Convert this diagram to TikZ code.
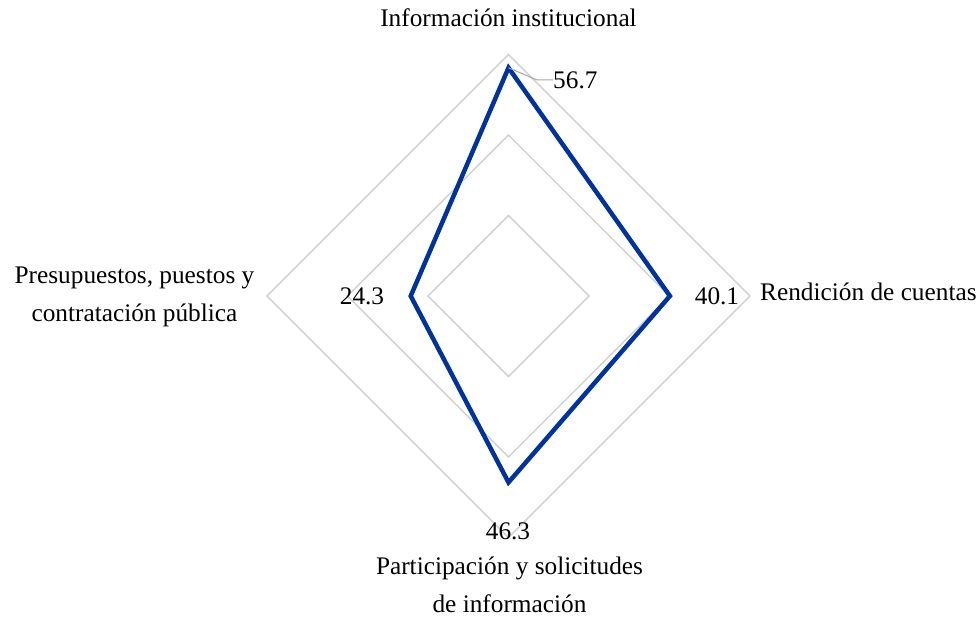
\documentclass[tikz,border=0pt]{standalone}
\usepackage{fontspec}
\setmainfont{Liberation Serif}
\begin{document}
\begin{tikzpicture}[x=1pt,y=-1pt,
  ring/.style={draw=ringgray,line width=1.5pt,line join=miter},
  series/.style={draw=serblue,line width=4.5pt,line join=miter},
  lbl/.style={font=\fontsize{25.3}{38}\selectfont,inner sep=0pt,text=black},
  val/.style={font=\fontsize{25.3}{28}\selectfont,inner sep=0pt,text=black},
  leader/.style={draw=leadgray,line width=1pt}]
\definecolor{ringgray}{HTML}{D4D4D4}
\definecolor{serblue}{HTML}{0032A0}
\definecolor{leadgray}{HTML}{A6A6A6}
\useasboundingbox (0,0) rectangle (980,617);
\fill[white] (0,0) rectangle (980,617);
\coordinate (C) at (508.5,296);
\coordinate (o1) at (508.5,54.5);
\coordinate (o2) at (750,296);
\coordinate (o3) at (508.5,537.5);
\coordinate (o4) at (267,296);
\coordinate (m1) at (508.5,135);
\coordinate (m2) at (669.5,296);
\coordinate (m3) at (508.5,457);
\coordinate (m4) at (347.5,296);
\coordinate (i1) at (508.5,215.5);
\coordinate (i2) at (589,296);
\coordinate (i3) at (508.5,376.5);
\coordinate (i4) at (428,296);
\draw[ring] (o1) -- (o2) -- (o3) -- (o4) -- cycle;
\draw[ring] (m1) -- (m2) -- (m3) -- (m4) -- cycle;
\draw[ring] (i1) -- (i2) -- (i3) -- (i4) -- cycle;
% data
\coordinate (d1) at (508.5,67.8);
\coordinate (d2) at (669.9,296);
\coordinate (d3) at (508.5,482.4);
\coordinate (d4) at (410.7,296);
\draw[series] (d1) -- (d2) -- (d3) -- (d4) -- cycle;
% value labels
\node[val,anchor=west] (v1) at (553,80) {56.7};
\node[val] (v2) at (717,296.5) {40.1};
\node[val] (v3) at (508,531) {46.3};
\node[val] (v4) at (362,296.5) {24.3};
\coordinate (k1) at (537,80);
\draw[leader] (d1) -- (k1) -- (v1.west);
% category labels
\node[lbl,anchor=base] (c1) at (508.5,27) {Información institucional};
\node[lbl,anchor=base west] (c2) at (760,301) {Rendición de cuentas};
\node[lbl,align=center,anchor=base] (c4) at (134.5,322) {Presupuestos, puestos y\\contratación pública};
\node[lbl,align=center,anchor=base] (c3) at (509.5,612) {Participación y solicitudes\\de información};
\end{tikzpicture}
\end{document}
